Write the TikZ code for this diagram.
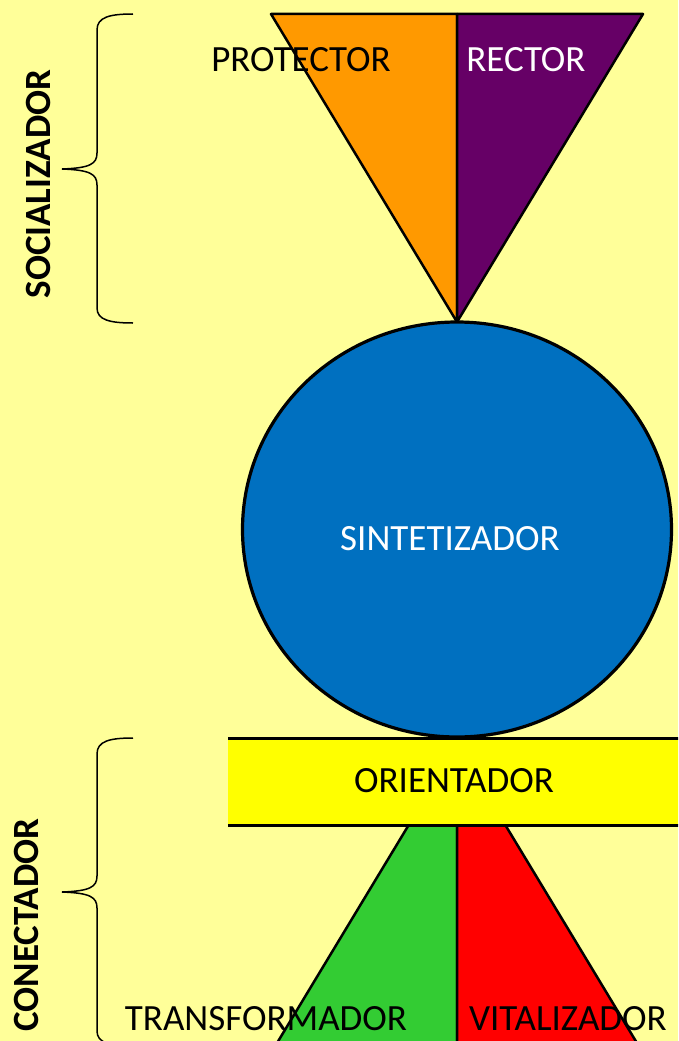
\documentclass[tikz,border=0pt]{standalone}
\usepackage{fontspec}
\setmainfont{Carlito}
\definecolor{bgyellow}{HTML}{FFFF99}
\definecolor{orng}{HTML}{FF9900}
\definecolor{purp}{HTML}{660066}
\definecolor{blu}{HTML}{0070C0}
\definecolor{yel}{HTML}{FFFF00}
\definecolor{grn}{HTML}{33CC33}
\definecolor{rd}{HTML}{FF0000}
\tikzset{
  shapeline/.style={draw=black, line width=2.5pt, line join=round},
  lbl/.style={font=\fontsize{37}{42}\selectfont, inner sep=0pt, anchor=base},
  sidelbl/.style={font=\fontsize{37}{40}\selectfont\bfseries, inner sep=0pt, anchor=base, rotate=90},
  bracepath/.style={draw=black, line width=1.5pt}
}
\begin{document}
\begin{tikzpicture}[x=1pt,y=-1pt]
\useasboundingbox (0,0) rectangle (678,1041);
\clip (0,0) rectangle (678,1041);
\fill[bgyellow] (0,0) rectangle (678,1041);
% bottom triangle
\coordinate (bapex) at (457,745);
\coordinate (bl) at (271,1053);
\coordinate (br) at (643,1053);
\coordinate (bm) at (457,1053);
\filldraw[fill=grn, shapeline] (bapex) -- (bl) -- (bm) -- cycle;
\filldraw[fill=rd, shapeline] (bapex) -- (bm) -- (br) -- cycle;
% orientador band
\fill[yel] (228,738) rectangle (700,825);
\coordinate (rtl) at (228,738);
\coordinate (rtr) at (700,738);
\coordinate (rbl) at (228,825);
\coordinate (rbr) at (700,825);
\draw[line width=3pt] (rtl) -- (rtr);
\draw[line width=3pt] (rbl) -- (rbr);
% top triangle
\coordinate (tapex) at (457,322);
\coordinate (tl) at (271,14);
\coordinate (tr) at (643,14);
\coordinate (tm) at (457,14);
\filldraw[fill=orng, shapeline] (tl) -- (tm) -- (tapex) -- cycle;
\filldraw[fill=purp, shapeline] (tm) -- (tr) -- (tapex) -- cycle;
% circle
\filldraw[fill=blu, draw=black, line width=3.2pt] (457,529.5) ellipse [x radius=214.5, y radius=207.5];
% labels
\node[lbl, text=black] (protector) at (301,71) {PROTECTOR};
\node[lbl, text=white] (rector) at (526,71) {RECTOR};
\node[lbl, text=white] (sint) at (450,550) {SINTETIZADOR};
\node[lbl, text=black] (orient) at (454,792) {ORIENTADOR};
\node[lbl, text=black] (transf) at (266,1030) {TRANSFORMADOR};
\node[lbl, text=black] (vital) at (568,1030) {VITALIZADOR};
% braces
\draw[bracepath] (133,14) .. controls (110,14) and (97,17) .. (97,30) -- (97,153) .. controls (97,164) and (90,168) .. (62,169) .. controls (90,170) and (97,174) .. (97,185) -- (97,308) .. controls (97,320) and (110,323) .. (133,323);
\draw[bracepath] (133,738) .. controls (110,738) and (97,741) .. (97,754) -- (97,876) .. controls (97,887) and (90,891) .. (62,892) .. controls (90,893) and (97,897) .. (97,908) -- (97,1031) .. controls (97,1043) and (110,1046) .. (133,1046);
\node[sidelbl] (social) at (50,184) {SOCIALIZADOR};
\node[sidelbl] (conect) at (38,925) {CONECTADOR};
\end{tikzpicture}
\end{document}
